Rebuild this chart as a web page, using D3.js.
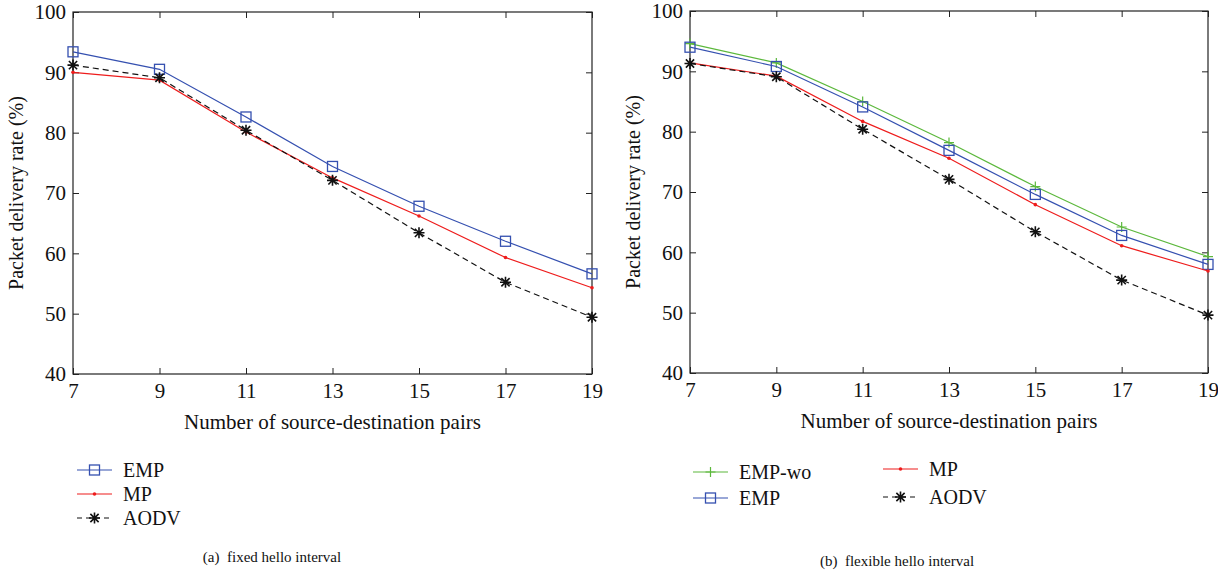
<!DOCTYPE html>
<html>
<head>
<meta charset="utf-8">
<script src="https://cdn.jsdelivr.net/npm/d3@7"></script>
<style>
  body { margin: 0; background: #fff; }
  svg text { font-family: "Liberation Serif", "DejaVu Serif", serif; fill: #111; }
</style>
</head>
<body>
<svg id="chart" width="1218" height="576"></svg>
<script>
// dati
const pairs = [7, 9, 11, 13, 15, 17, 19];
const yTicks = [40, 50, 60, 70, 80, 90, 100];

// (a) fixed hello interval
const empA = [93.4, 90.5, 82.6, 74.4, 67.8, 62.0, 56.6];
const mpA = [90.0, 88.7, 80.1, 72.5, 66.2, 59.3, 54.3];
const aodvA = [91.2, 89.1, 80.4, 72.1, 63.4, 55.2, 49.4];

// (b) flexible hello interval
const empWoB = [94.6, 91.4, 85.0, 78.2, 70.9, 64.2, 59.3];
const empB = [94.0, 90.8, 84.1, 76.9, 69.6, 62.8, 58.0];
const mpB = [91.4, 89.2, 81.7, 75.6, 67.9, 61.1, 56.9];
const aodvB = [91.3, 89.1, 80.4, 72.1, 63.4, 55.4, 49.6];

const svg = d3.select("#chart");

const styles = {
  "EMP-wo": { color: "#5cb83c", dash: null, marker: "plus" },
  "EMP": { color: "#3550b0", dash: null, marker: "square" },
  "MP": { color: "#ee1c1c", dash: null, marker: "dot" },
  "AODV": { color: "#111", dash: "6,4", marker: "star" }
};

function drawMarker(g, type, color, x, y) {
  if (type === "square") {
    g.append("rect").attr("x", x - 5).attr("y", y - 5).attr("width", 10).attr("height", 10)
      .attr("fill", "none").attr("stroke", color).attr("stroke-width", 1.3);
  } else if (type === "dot") {
    g.append("circle").attr("cx", x).attr("cy", y).attr("r", 1.8).attr("fill", color);
  } else if (type === "plus") {
    g.append("path").attr("d", `M${x - 5},${y}H${x + 5}M${x},${y - 5}V${y + 5}`)
      .attr("stroke", color).attr("stroke-width", 1.2);
  } else if (type === "star") {
    const r = 5.5;
    let d = `M${x - r},${y}H${x + r}M${x},${y - r}V${y + r}`;
    const k = r * 0.75;
    d += `M${x - k},${y - k}L${x + k},${y + k}M${x - k},${y + k}L${x + k},${y - k}`;
    g.append("path").attr("d", d).attr("stroke", color).attr("stroke-width", 1.6);
  }
}

function panel(box, series, caption, legendRows) {
  const x = d3.scaleLinear().domain([7, 19]).range([box.x0, box.x1]);
  const y = d3.scaleLinear().domain([40, 100]).range([box.y1, box.y0]);
  const g = svg.append("g");

  // box
  g.append("rect").attr("x", box.x0).attr("y", box.y0)
    .attr("width", box.x1 - box.x0).attr("height", box.y1 - box.y0)
    .attr("fill", "none").attr("stroke", "#222").attr("stroke-width", 1.2);

  // assi con tick verso l'interno
  const ax = (a) => a.tickSizeInner(-6).tickSizeOuter(0).tickPadding(7);
  const xb = g.append("g").attr("transform", `translate(0,${box.y1})`)
    .call(ax(d3.axisBottom(x).tickValues(pairs).tickFormat(d3.format("d"))));
  const xt = g.append("g").attr("transform", `translate(0,${box.y0})`)
    .call(d3.axisTop(x).tickValues(pairs).tickSizeInner(-6).tickSizeOuter(0).tickFormat(""));
  const yl = g.append("g").attr("transform", `translate(${box.x0},0)`)
    .call(ax(d3.axisLeft(y).tickValues(yTicks)));
  const yr = g.append("g").attr("transform", `translate(${box.x1},0)`)
    .call(d3.axisRight(y).tickValues(yTicks).tickSizeInner(-6).tickSizeOuter(0).tickFormat(""));
  [xb, xt, yl, yr].forEach(a => {
    a.select(".domain").remove();
    a.selectAll("line").attr("stroke", "#222");
    a.selectAll("text").style("font-size", "21px").attr("fill", "#111")
      .style("font-family", "'Liberation Serif', serif");
  });
  xb.selectAll("text").attr("dy", "0.8em");

  // linee
  const line = d3.line().x((d, i) => x(pairs[i])).y(d => y(d));
  series.forEach(s => {
    const st = styles[s.name];
    g.append("path").datum(s.values).attr("d", line)
      .attr("fill", "none").attr("stroke", st.color).attr("stroke-width", 1.2)
      .attr("stroke-dasharray", st.dash);
    s.values.forEach((v, i) => drawMarker(g, st.marker, st.color, x(pairs[i]), y(v)));
  });

  // titoli assi
  g.append("text").attr("x", (box.x0 + box.x1) / 2).attr("y", box.y1 + 55)
    .attr("text-anchor", "middle").style("font-size", "21px")
    .text("Number of source-destination pairs");
  g.append("text")
    .attr("transform", `translate(${box.x0 - 50},${(box.y0 + box.y1) / 2}) rotate(-90)`)
    .attr("text-anchor", "middle").style("font-size", "20px")
    .text("Packet delivery rate (%)");

  // legenda
  legendRows.forEach(r => {
    const st = styles[r.name];
    g.append("line").attr("x1", r.x).attr("x2", r.x + 35).attr("y1", r.y).attr("y2", r.y)
      .attr("stroke", st.color).attr("stroke-width", 1.2).attr("stroke-dasharray", st.dash ? "5,4" : null);
    drawMarker(g, st.marker, st.color, r.x + 17.5, r.y);
    g.append("text").attr("x", r.x + 46).attr("y", r.y + 7)
      .style("font-size", "20px").text(r.name);
  });

  g.append("text").attr("x", caption.x).attr("y", caption.y)
    .attr("text-anchor", "middle").style("font-size", "15px")
    .attr("xml:space", "preserve").text(caption.text);
}

panel({ x0: 73, x1: 592, y0: 12, y1: 374 },
  [{ name: "EMP", values: empA }, { name: "MP", values: mpA }, { name: "AODV", values: aodvA }],
  { x: 272, y: 562, text: "(a)  fixed hello interval" },
  [{ name: "EMP", x: 77, y: 470 }, { name: "MP", x: 77, y: 494 }, { name: "AODV", x: 77, y: 518 }]);

panel({ x0: 690, x1: 1208, y0: 11, y1: 373 },
  [{ name: "EMP-wo", values: empWoB }, { name: "EMP", values: empB }, { name: "MP", values: mpB }, { name: "AODV", values: aodvB }],
  { x: 897, y: 566, text: "(b)  flexible hello interval" },
  [{ name: "EMP-wo", x: 693, y: 472 }, { name: "EMP", x: 693, y: 498 },
   { name: "MP", x: 883, y: 469 }, { name: "AODV", x: 883, y: 497 }]);
</script>
</body>
</html>
